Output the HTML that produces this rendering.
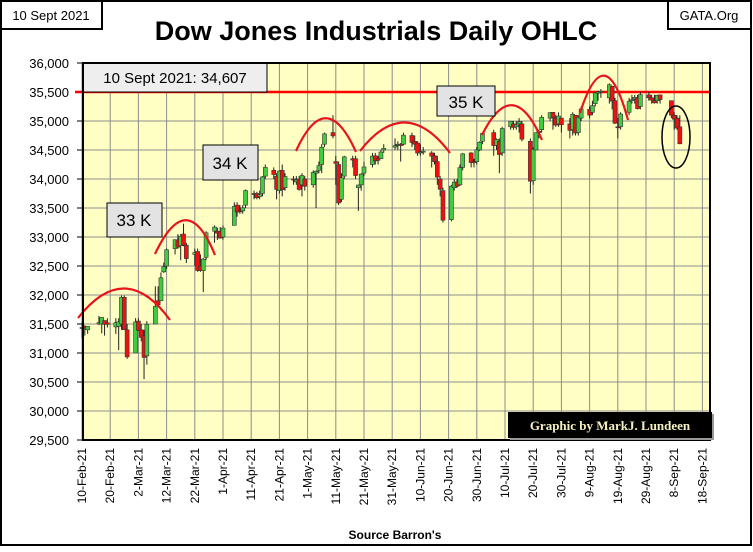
<!DOCTYPE html>
<html><head><meta charset="utf-8"><style>
html,body{margin:0;padding:0;background:#fff;}
body{width:753px;height:547px;overflow:hidden;font-family:"Liberation Sans",sans-serif;}
</style></head><body>
<svg id="chart" width="753" height="547" viewBox="0 0 753 547" xmlns="http://www.w3.org/2000/svg" font-family="Liberation Sans, sans-serif">
<rect x="1" y="1" width="750" height="544" fill="#fff" stroke="#000" stroke-width="2"/>
<rect x="1" y="1" width="101" height="28" fill="#fff" stroke="#000" stroke-width="2"/>
<text x="51" y="20" font-size="13" text-anchor="middle">10 Sept 2021</text>
<rect x="668" y="1" width="83" height="28" fill="#fff" stroke="#000" stroke-width="2"/>
<text x="709" y="20" font-size="13" text-anchor="middle">GATA.Org</text>
<text x="376" y="40" font-size="27" font-weight="bold" text-anchor="middle">Dow Jones Industrials Daily OHLC</text>
<rect x="83" y="63" width="627" height="377" fill="#ffffc4"/>
<g id="grid"></g>
<g id="yaxis"></g>
<g id="xaxis"></g>
<line id="resline" x1="75" x2="710" stroke="#f00" stroke-width="2.5"/>
<g id="candles"></g>
<g fill="none" stroke="#e8141c" stroke-width="2.2">
<path d="M78,318 Q125,258 170,320"/>
<path d="M155,254 Q187,186 215,255"/>
<path d="M296,151 Q326,85 356,152"/>
<path d="M360,151 Q405,93 450,153"/>
<path d="M482,135 Q513,73 542,140"/>
<path d="M580,113 Q605,35 628,120"/>
</g>
<ellipse cx="676" cy="137" rx="14" ry="31" fill="none" stroke="#000" stroke-width="1.5"/>
<rect x="83" y="63" width="184" height="29" fill="#eeeeee" stroke="#000" stroke-width="1"/>
<text x="175" y="83" font-size="15" text-anchor="middle">10 Sept 2021: 34,607</text>
<rect x="107" y="203" width="55" height="34" fill="#e3e3e3" stroke="#000"/>
<text x="134" y="226" font-size="17" text-anchor="middle">33 K</text>
<rect x="203" y="145" width="55" height="35" fill="#e3e3e3" stroke="#000"/>
<text x="230" y="169" font-size="17" text-anchor="middle">34 K</text>
<rect x="437" y="86" width="58" height="30" fill="#e3e3e3" stroke="#000"/>
<text x="466" y="108" font-size="17" text-anchor="middle">35 K</text>
<rect x="83" y="63" width="627" height="377" fill="none" stroke="#000" stroke-width="2"/>
<rect x="510" y="414" width="204" height="26" fill="#999"/>
<rect x="508" y="412" width="204" height="26" fill="#000"/>
<text x="610" y="430" font-size="13" font-weight="bold" fill="#f5efc0" text-anchor="middle" font-family="Liberation Serif, serif">Graphic by MarkJ. Lundeen</text>
<text x="395" y="539" font-size="12" font-weight="bold" text-anchor="middle">Source Barron's</text>
</svg>
<script>
const yTicks=[29500,30000,30500,31000,31500,32000,32500,33000,33500,34000,34500,35000,35500,36000];
const xTickDates=["2021-02-10","2021-02-20","2021-03-02","2021-03-12","2021-03-22","2021-04-01","2021-04-11","2021-04-21","2021-05-01","2021-05-11","2021-05-21","2021-05-31","2021-06-10","2021-06-20","2021-06-30","2021-07-10","2021-07-20","2021-07-30","2021-08-09","2021-08-19","2021-08-29","2021-09-08","2021-09-18"];
const xTickLabels=["10-Feb-21","20-Feb-21","2-Mar-21","12-Mar-21","22-Mar-21","1-Apr-21","11-Apr-21","21-Apr-21","1-May-21","11-May-21","21-May-21","31-May-21","10-Jun-21","20-Jun-21","30-Jun-21","10-Jul-21","20-Jul-21","30-Jul-21","9-Aug-21","19-Aug-21","29-Aug-21","8-Sep-21","18-Sep-21"];
const resistance=35500;
const dates=["02-10","02-11","02-12","02-16","02-17","02-18","02-19","02-22","02-23","02-24","02-25","02-26",
"03-01","03-02","03-03","03-04","03-05","03-08","03-09","03-10","03-11","03-12","03-15","03-16","03-17","03-18","03-19","03-22","03-23","03-24","03-25","03-26","03-29","03-30","03-31",
"04-01","04-05","04-06","04-07","04-08","04-09","04-12","04-13","04-14","04-15","04-16","04-19","04-20","04-21","04-22","04-23","04-26","04-27","04-28","04-29","04-30",
"05-03","05-04","05-05","05-06","05-07","05-10","05-11","05-12","05-13","05-14","05-17","05-18","05-19","05-20","05-21","05-24","05-25","05-26","05-27","05-28",
"06-01","06-02","06-03","06-04","06-07","06-08","06-09","06-10","06-11","06-14","06-15","06-16","06-17","06-18","06-21","06-22","06-23","06-24","06-25","06-28","06-29","06-30",
"07-01","07-02","07-06","07-07","07-08","07-09","07-12","07-13","07-14","07-15","07-16","07-19","07-20","07-21","07-22","07-23","07-26","07-27","07-28","07-29","07-30",
"08-02","08-03","08-04","08-05","08-06","08-09","08-10","08-11","08-12","08-13","08-16","08-17","08-18","08-19","08-20","08-23","08-24","08-25","08-26","08-27","08-30","08-31",
"09-01","09-02","09-03","09-07","09-08","09-09","09-10"];
const opens=[31440,31460,31400,31500,31500,31560,31520,31450,31460,31500,31960,31400,
31000,31550,31400,31300,30950,31500,31900,31900,32400,32500,32800,32950,32850,33050,32860,32700,32750,32500,32420,32650,33100,33100,33100,
33000,33200,33550,33450,33450,33550,33750,33750,33700,33750,34050,34150,34050,33800,34150,33850,34000,33950,34000,33900,34000,
33900,34100,34150,34250,34600,34800,34300,34250,33650,34050,34350,34350,33850,33900,34100,34250,34400,34350,34350,34500,
34550,34600,34600,34600,34750,34650,34620,34460,34480,34450,34400,34300,34000,33800,33300,33850,33950,33900,34200,34450,34300,34300,
34500,34650,34800,34580,34650,34450,34900,34950,34900,34950,34950,34650,33970,34500,34800,34850,35050,35150,35050,34950,35050,
34950,34850,35100,34800,35050,35200,35150,35300,35480,35500,35400,35600,35350,34900,34900,35150,35350,35380,35400,35250,35450,35400,
35350,35350,35450,35350,35100,35050,34900];
const highs=[31530,31480,31460,31640,31620,31560,31600,31600,31600,31990,31990,31500,
31600,31600,31500,31400,31550,32150,32150,32390,32560,32800,32960,33050,33050,33230,32900,32800,32800,32700,32640,33100,33200,33160,33170,
33200,33600,33600,33550,33550,33820,33800,33780,33800,34050,34250,34200,34100,34150,34250,34100,34050,34050,34050,34100,34050,
34150,34150,34300,34600,34800,35100,34400,34300,34100,34400,34400,34400,33900,34100,34300,34450,34450,34400,34500,34600,
34700,34650,34620,34800,34800,34750,34650,34600,34550,34480,34450,34400,34050,33850,33900,34000,34000,34250,34450,34460,34350,34550,
34650,34800,34850,34700,34700,34900,35000,35000,35000,35050,35000,34700,34550,34800,34850,35100,35150,35150,35100,35150,35050,
35050,35150,35100,35100,35250,35250,35350,35500,35520,35550,35650,35600,35400,35050,35150,35400,35450,35450,35450,35500,35500,35450,
35450,35450,35450,35350,35150,35100,35100];
const lows=[31260,31300,31330,31480,31340,31300,31440,31330,31050,31400,31400,30900,
31000,31380,31200,30550,30800,31500,31800,31900,32380,32450,32700,32800,32600,32840,32550,32500,32400,32400,32050,32600,32900,32950,32970,
32950,33200,33350,33400,33400,33500,33650,33650,33650,33700,34000,34000,33650,33750,33700,33800,33900,33900,33800,33700,33800,
33850,33500,34100,34100,34550,34700,33900,33550,33600,34000,34200,34000,33450,33800,34050,34200,34250,34250,34350,34450,
34500,34500,34300,34580,34550,34500,34400,34400,34420,34200,34250,33900,33700,33250,33270,33800,33850,33880,34150,34200,34200,34250,
34480,34600,34400,34500,34100,34400,34850,34850,34850,34800,34650,33750,33900,34500,34700,34800,35000,34850,34900,34900,34800,
34700,34750,34750,34750,35000,35050,35100,35250,35350,35400,35300,35200,34950,34700,34850,35100,35300,35300,35200,35200,35350,35300,
35300,35300,35300,35050,34850,34850,34600];
const closes=[31438,31431,31458,31523,31613,31494,31494,31522,31537,31961,31402,30932,
31535,31391,31270,30924,31496,31802,31832,32297,32485,32779,32953,32825,33015,32862,32628,32731,32423,32420,32619,33072,33171,33066,32982,
33153,33527,33430,33446,33504,33801,33746,33677,33730,34036,34200,34078,33821,34137,33816,34043,33981,33985,33820,34060,33875,
34113,34133,34230,34548,34778,34743,34270,33587,34021,34382,34327,34060,33896,34084,34208,34394,34312,34323,34465,34529,
34575,34600,34577,34756,34630,34600,34447,34467,34480,34393,34299,34033,33823,33290,33877,33946,33874,34196,34433,34283,34292,34503,
34633,34786,34577,34681,34422,34870,34996,34889,34933,34987,34687,33962,34512,34798,34823,35062,35144,35058,34930,35085,34935,
34838,35116,34793,35064,35209,35102,35265,35485,35500,35515,35625,35343,34961,34894,35120,35336,35367,35406,35214,35456,35400,35361,
35313,35444,35369,35100,35031,34879,34607];

const NS="http://www.w3.org/2000/svg";
const X0=82, PX_PER_DAY=2.82, T0=Date.UTC(2021,1,10);
const Y0=440, Y1=63, VMIN=29500, VMAX=36000;
function xScale(dstr){const p=dstr.split("-");const t=Date.UTC(2021,+p[p.length-2]-1,+p[p.length-1]);return X0+(t-T0)/86400000*PX_PER_DAY;}
function yScale(v){return Y0-(v-VMIN)/(VMAX-VMIN)*(Y0-Y1);}
function mk(tag,attrs,parent){const e=document.createElementNS(NS,tag);for(const k in attrs)e.setAttribute(k,attrs[k]);parent.appendChild(e);return e;}
const grid=document.getElementById("grid"),yax=document.getElementById("yaxis"),xax=document.getElementById("xaxis"),cg=document.getElementById("candles");
yTicks.forEach(v=>{const y=yScale(v);
 const g=mk("line",{x1:83,x2:710,y1:y,y2:y,stroke:"#8c8c8c","stroke-width":1},grid);
 
 
 const tk=mk("line",{x1:77,x2:83,y1:y,y2:y,stroke:"#000"},yax);
 
 
 const t=mk("text",{x:69,y:y+5,"font-size":13,"text-anchor":"end"},yax);
 
 
 t.textContent=v.toLocaleString("en-US");});
xTickDates.forEach((d,i)=>{const x=xScale(d);
 const g=mk("line",{x1:x,x2:x,y1:63,y2:440,stroke:"#8c8c8c","stroke-width":1},grid);
 
 
 const t=mk("text",{x:0,y:0,"font-size":12,"text-anchor":"end",transform:`translate(${x+4},448) rotate(-90)`},xax);
 
 
 t.textContent=xTickLabels[i];});
const rl=document.getElementById("resline");rl.setAttribute("y1",yScale(resistance));rl.setAttribute("y2",yScale(resistance));
dates.forEach((d,i)=>{const x=xScale("2021-"+d);const o=opens[i],h=highs[i],l=lows[i],c=closes[i];
 const up=c>=o;
 const w=mk("line",{x1:x,x2:x,y1:yScale(h),y2:yScale(l),stroke:"#222","stroke-width":1},cg);
 
 
 const top=yScale(Math.max(o,c)),bot=yScale(Math.min(o,c));
 const b=mk("rect",{x:x-2,y:top,width:4,height:Math.max(1,bot-top),fill:up?"#3fcc3f":"#f01010",stroke:"#333","stroke-width":0.6},cg);
 
 });
</script>
</body></html>
